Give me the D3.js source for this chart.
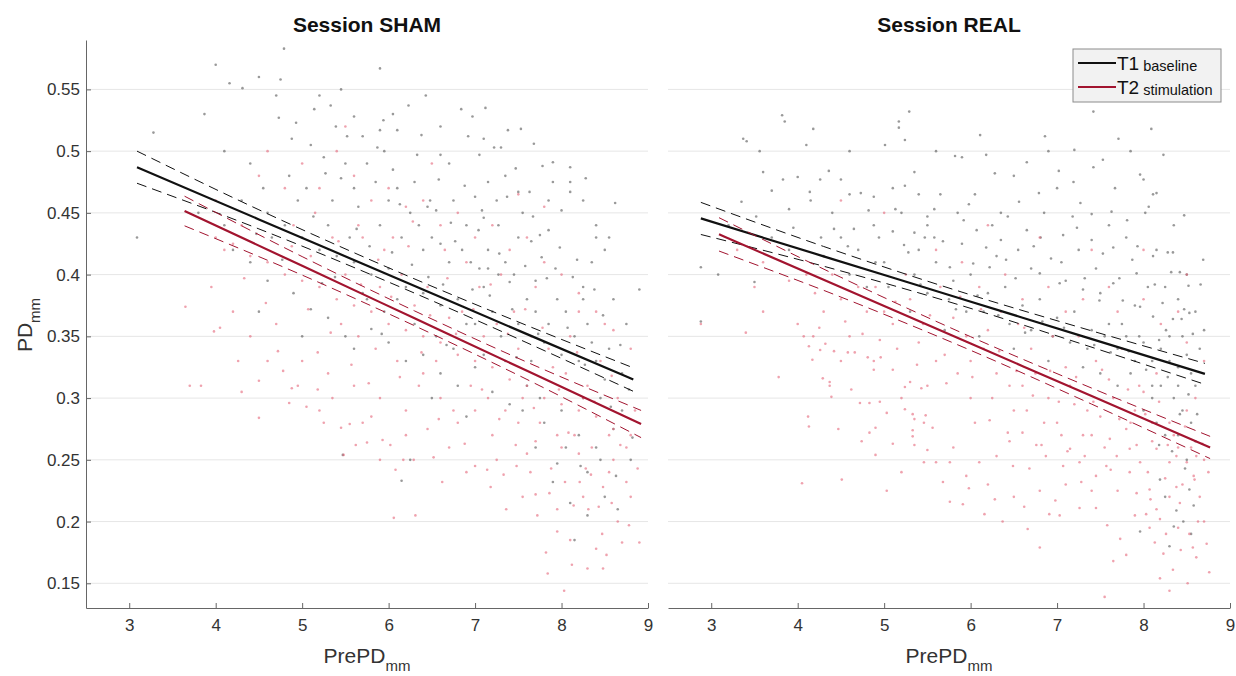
<!DOCTYPE html>
<html lang="en">
<head>
    <meta charset="UTF-8">
    <title>PD vs PrePD</title>
    <style type="text/css">
        * {
            margin: 0;
            padding: 0;
        }
        body {
            background: white;
        }
        text {
            font-family: "Liberation Sans", Arial, sans-serif;
        }
    </style>
</head>
<body>
<div id="chart-area"></div>
<script src="https://cdn.jsdelivr.net/npm/d3@7"></script>
<script type="text/javascript">
    // tick labels
    const xTicks = [3, 4, 5, 6, 7, 8, 9]
    const xTickLabels = ['3', '4', '5', '6', '7', '8', '9']
    const yTicks = [0.15, 0.2, 0.25, 0.3, 0.35, 0.4, 0.45, 0.5, 0.55]
    const yTickLabels = ['0.15', '0.2', '0.25', '0.3', '0.35', '0.4', '0.45', '0.5', '0.55']
    const sessions = ['Session SHAM', 'Session REAL']
    const seriesNames = [['T1', 'baseline'], ['T2', 'stimulation']]

    // regression fits: x positions, fitted value, upper / lower confidence bounds
    const shamT1Fit = {
      x: [3.09, 4.5, 6.2, 7.6, 8.83],
      y: [0.487, 0.4447, 0.3938, 0.3518, 0.315],
      hi: [0.500, 0.4525, 0.3995, 0.3588, 0.3245],
      lo: [0.474, 0.437, 0.388, 0.3448, 0.3055]
    }
    const shamT2Fit = {
      x: [3.64, 5.0, 6.3, 7.6, 8.92],
      y: [0.4515, 0.4071, 0.3646, 0.3221, 0.279],
      hi: [0.4635, 0.4146, 0.3706, 0.3291, 0.290],
      lo: [0.4395, 0.3996, 0.3586, 0.3151, 0.268]
    }
    const realT1Fit = {
      x: [2.88, 4.3, 5.9, 7.3, 8.71],
      y: [0.4455, 0.4148, 0.3803, 0.3500, 0.3196],
      hi: [0.4585, 0.4228, 0.3858, 0.3565, 0.3281],
      lo: [0.4325, 0.4068, 0.3748, 0.3435, 0.3111]
    }
    const realT2Fit = {
      x: [3.09, 4.5, 6.0, 7.4, 8.77],
      y: [0.4326, 0.3898, 0.3442, 0.3016, 0.260],
      hi: [0.4461, 0.3978, 0.3497, 0.3081, 0.269],
      lo: [0.4191, 0.3818, 0.3387, 0.2951, 0.251]
    }

    // scatter points [PrePD, PD] (subsampled)
    const shamT1Pts = [
      [3.09,0.430],[3.28,0.515],[3.87,0.530],[4.00,0.570],[4.16,0.555],[4.31,0.551],[4.50,0.560],[4.79,0.583],
      [4.75,0.558],[4.70,0.545],[5.14,0.534],[5.20,0.545],[5.33,0.537],[5.90,0.567],[5.60,0.528],[5.94,0.525],
      [6.10,0.517],[5.90,0.517],[5.70,0.512],[5.39,0.520],[4.73,0.527],[4.88,0.510],[5.95,0.500],
      [6.43,0.545],[6.84,0.534],[7.12,0.535],[7.53,0.518],[7.68,0.506],[6.38,0.513],[6.92,0.512],[7.10,0.510],
      [7.22,0.503],[7.30,0.503],[7.90,0.491],[8.10,0.487],[6.60,0.497],[7.05,0.497],[7.47,0.486],[6.70,0.490],
      [7.78,0.488],[7.90,0.475],[8.10,0.475],[8.10,0.467],[7.50,0.467],[7.63,0.467],[8.25,0.460],[8.40,0.440],
      [8.40,0.430],[8.50,0.420],[8.90,0.388],[8.25,0.380],[8.00,0.452],[7.85,0.436],[7.75,0.432],[7.27,0.440],
      [7.10,0.446],[7.04,0.436],[6.90,0.440],[6.72,0.442],[6.55,0.452],[6.48,0.460],[6.45,0.455],[7.00,0.463],
      [7.15,0.420],[7.50,0.430],[7.65,0.427],[7.77,0.414],[7.93,0.405],[8.13,0.398],[8.25,0.390],[7.15,0.405],
      [7.27,0.400],[7.40,0.394],[7.10,0.390],[7.70,0.395],
      [4.20,0.420],[4.40,0.410],[4.60,0.395],[4.90,0.385],[5.10,0.372],[5.30,0.365],[5.50,0.350],[5.60,0.340],
      [5.80,0.356],[6.00,0.345],[6.20,0.330],[6.40,0.335],[6.60,0.320],[6.80,0.310],[7.00,0.325],[7.20,0.305],
      [7.40,0.295],[7.60,0.310],[7.80,0.280],[8.00,0.290],[8.20,0.270],[8.40,0.260],[8.60,0.275],[8.80,0.250],
      [7.90,0.232],[8.10,0.215],[8.30,0.240],[8.50,0.220],[8.15,0.185],[7.95,0.247],[7.70,0.260],[6.90,0.285],
      [6.50,0.300],[6.25,0.250],[6.15,0.233],[5.00,0.350],[4.50,0.370],[4.10,0.440],[3.80,0.450],[5.47,0.254],
      [5.75,0.380],[6.90,0.360],[7.30,0.350],[7.65,0.330],[8.45,0.300],[8.70,0.320],[8.35,0.345],
      [4.30,0.460],[4.60,0.450],[4.80,0.440],[5.00,0.430],[5.20,0.420],[5.40,0.415],[5.60,0.410],[5.80,0.400],
      [6.00,0.405],[6.20,0.390],[6.40,0.385],[6.60,0.375],[6.80,0.380],[7.00,0.360],[7.20,0.370],[7.50,0.360],
      [7.80,0.345],[8.00,0.335],[8.20,0.330],[8.50,0.315],[8.70,0.290],[5.05,0.470],[5.35,0.460],[5.65,0.455],
      [5.90,0.440],[6.15,0.430],[6.40,0.420],[6.70,0.410],[5.50,0.490],[6.30,0.475],[6.05,0.485],[4.40,0.490],
      [4.10,0.500],
      [5.10,0.505],[5.25,0.495],[5.45,0.478],[5.60,0.470],[5.75,0.490],[5.85,0.475],[6.00,0.460],[6.10,0.470],
      [6.25,0.450],[6.35,0.440],[6.50,0.430],[6.60,0.425],[6.75,0.460],[6.85,0.420],[6.95,0.410],[7.05,0.405],
      [7.15,0.475],[7.25,0.460],[7.35,0.410],[7.45,0.400],[7.55,0.450],[7.60,0.380],[7.70,0.370],[7.85,0.360],
      [7.95,0.380],[8.05,0.370],[8.15,0.350],[8.30,0.360],[8.40,0.330],[8.55,0.340],[8.60,0.380],[8.75,0.360],
      [8.35,0.410],[8.55,0.430],[4.85,0.480],[4.95,0.460],[4.55,0.470],[4.65,0.430],[5.30,0.440],[5.55,0.430],
      [5.70,0.385],[5.95,0.370],[6.10,0.380],[6.30,0.360],[6.55,0.350],[6.75,0.340],[7.10,0.335],[7.35,0.330],
      [7.55,0.290],[7.75,0.300],[8.25,0.300],[8.05,0.260],[8.30,0.205],[8.65,0.210],[8.45,0.250],[6.05,0.530],
      [6.60,0.520],[5.45,0.550],[7.35,0.480],[7.85,0.460],
      [5.13,0.447],[5.27,0.482],[5.38,0.398],[5.52,0.512],[5.63,0.437],[5.78,0.423],[5.87,0.503],[6.04,0.418],
      [6.13,0.457],[6.27,0.408],[6.33,0.497],[6.46,0.398],[6.58,0.477],[6.63,0.392],[6.77,0.427],[6.88,0.472],
      [6.97,0.388],[7.08,0.452],[7.17,0.383],[7.28,0.417],[7.37,0.463],[7.43,0.372],[7.58,0.407],[7.67,0.447],
      [7.73,0.352],[7.83,0.397],[7.98,0.422],[8.07,0.357],[8.18,0.412],[8.27,0.327],[8.38,0.388],[8.48,0.367],
      [8.57,0.293],[8.68,0.343],[8.78,0.307],[8.82,0.268],[8.63,0.237],[8.22,0.245],[7.48,0.333],[6.67,0.343],
      [5.92,0.352],[5.23,0.393],[4.77,0.412],[4.47,0.433],[4.93,0.523],[6.23,0.537],[6.97,0.528],[7.38,0.517],
      [8.28,0.478],[8.62,0.458]
    ]
    const shamT2Pts = [
      [3.65,0.374],[3.70,0.310],[4.00,0.460],[4.10,0.420],[4.30,0.440],[4.50,0.480],[4.60,0.500],[4.80,0.470],
      [5.00,0.490],[5.20,0.470],[5.40,0.500],[5.60,0.480],[5.80,0.460],[6.00,0.470],[6.20,0.455],[6.40,0.460],
      [6.60,0.440],[6.80,0.450],[7.00,0.430],[7.20,0.440],[7.40,0.420],[7.60,0.430],[7.80,0.410],[8.00,0.400],
      [8.20,0.385],[8.40,0.370],[8.60,0.355],[8.80,0.340],[7.50,0.465],[7.80,0.455],[6.50,0.490],[5.50,0.520],
      [4.00,0.430],[4.20,0.425],[4.40,0.415],[4.60,0.410],[4.80,0.400],[5.00,0.395],[5.20,0.390],[5.40,0.380],
      [5.60,0.375],[5.80,0.370],[6.00,0.360],[6.20,0.355],[6.40,0.350],[6.60,0.345],[6.80,0.335],[7.00,0.330],
      [7.20,0.325],[7.40,0.315],[7.60,0.310],[7.80,0.300],[8.00,0.295],[8.20,0.290],[8.40,0.285],[8.60,0.275],
      [8.80,0.270],[5.10,0.415],[5.50,0.400],[5.90,0.390],[6.30,0.375],[6.70,0.365],[7.10,0.350],[7.50,0.340],
      [7.90,0.325],[8.30,0.310],
      [3.83,0.310],[3.98,0.354],[4.05,0.357],[4.26,0.330],[4.30,0.305],[4.50,0.284],[4.50,0.314],[4.60,0.330],
      [4.72,0.338],[4.85,0.296],[4.88,0.308],[5.05,0.293],[5.20,0.290],[5.25,0.280],[5.45,0.276],[5.55,0.279],
      [5.70,0.280],[5.75,0.264],[5.90,0.250],[5.93,0.266],[6.02,0.262],[6.06,0.203],[5.48,0.254],[6.17,0.250],
      [6.29,0.250],[6.52,0.252],[6.31,0.205],[6.90,0.240],[7.00,0.245],[7.14,0.242],[7.33,0.238],[7.48,0.245],
      [7.64,0.240],[7.36,0.210],[7.55,0.220],[7.70,0.222],[7.86,0.223],[8.04,0.232],[8.21,0.232],[8.34,0.238],
      [8.55,0.240],[8.75,0.232],[7.82,0.175],[7.84,0.158],[8.03,0.144],[7.95,0.192],[8.10,0.185],[8.30,0.162],
      [8.48,0.162],[8.40,0.178],[8.47,0.190],[8.58,0.215],[8.70,0.183],[8.90,0.183],[8.14,0.213],[8.31,0.210],
      [8.43,0.212],[6.60,0.300],[6.80,0.280],[7.00,0.290],[7.20,0.270],[7.50,0.280],[7.70,0.265],[8.00,0.260],
      [8.20,0.255],[8.60,0.250],[5.00,0.330],[5.30,0.320],[5.60,0.310],[5.90,0.300],[6.20,0.290],[6.40,0.320],
      [4.90,0.440],[5.15,0.450],[5.35,0.430],[5.45,0.360],[5.65,0.350],[5.70,0.430],[5.85,0.340],[5.95,0.420],
      [6.10,0.330],[6.15,0.400],[6.35,0.310],[6.45,0.390],[6.55,0.330],[6.65,0.420],[6.75,0.290],[6.85,0.370],
      [6.95,0.310],[7.05,0.390],[7.15,0.300],[7.25,0.360],[7.35,0.290],[7.45,0.370],[7.55,0.300],[7.65,0.350],
      [7.75,0.280],[7.85,0.340],[7.95,0.270],[8.05,0.320],[8.10,0.350],[8.15,0.270],[8.25,0.300],[8.35,0.260],
      [8.45,0.330],[8.55,0.270],[8.65,0.300],[8.75,0.260],[8.85,0.290],[8.80,0.220],[8.65,0.200],[8.25,0.220],
      [7.95,0.210],[7.60,0.255],[7.25,0.250],[6.70,0.260],[6.45,0.275],[6.20,0.270],[5.80,0.285],[5.35,0.300],
      [4.95,0.310],[4.70,0.360],[4.40,0.350],[4.20,0.370],[3.95,0.390],[5.65,0.440],[6.05,0.430],[6.90,0.410],
      [7.30,0.400],[7.70,0.390],[8.20,0.370],[8.50,0.360],
      [5.07,0.372],[5.18,0.337],[5.33,0.353],[5.42,0.427],[5.57,0.327],[5.68,0.392],[5.77,0.312],[5.88,0.412],
      [6.03,0.382],[6.13,0.317],[6.23,0.423],[6.38,0.337],[6.48,0.367],[6.58,0.283],[6.68,0.397],[6.78,0.352],
      [6.88,0.263],[6.98,0.372],[7.08,0.307],[7.18,0.392],[7.28,0.283],[7.38,0.352],[7.47,0.262],[7.58,0.372],
      [7.68,0.292],[7.78,0.357],[7.88,0.243],[7.97,0.307],[8.08,0.272],[8.18,0.337],[8.28,0.243],[8.38,0.297],
      [8.48,0.228],[8.58,0.318],[8.68,0.262],[8.78,0.197],[8.88,0.243],[8.52,0.173],[8.12,0.165],[7.72,0.205],
      [7.18,0.228],[6.62,0.232],[6.08,0.242],[5.62,0.262],[5.18,0.307],[4.78,0.322],[4.58,0.377],[4.33,0.397],
      [4.88,0.423],[6.28,0.443]
    ]
    const realT1Pts = [
      [3.82,0.529],[3.85,0.524],[4.18,0.518],[4.10,0.505],[3.37,0.510],[3.41,0.508],[3.56,0.500],[5.29,0.532],
      [5.17,0.524],[5.17,0.519],[5.24,0.509],[5.01,0.505],[4.60,0.500],[3.60,0.483],[3.83,0.477],[4.00,0.479],
      [4.26,0.477],[4.36,0.484],[4.50,0.477],[4.60,0.465],[4.73,0.466],[4.88,0.463],[5.10,0.470],[5.24,0.472],
      [5.35,0.483],[5.40,0.465],[5.50,0.447],[3.70,0.468],[4.14,0.467],[3.35,0.459],[3.90,0.453],[4.15,0.460],
      [4.27,0.430],[4.50,0.430],[4.65,0.437],[4.88,0.440],[4.94,0.430],[5.10,0.435],[5.23,0.424],[5.35,0.434],
      [5.47,0.430],[5.58,0.430],[2.88,0.406],[3.08,0.400],[3.50,0.394],[2.88,0.362],
      [7.42,0.532],[6.11,0.513],[6.86,0.512],[7.20,0.501],[7.71,0.510],[8.09,0.518],[5.82,0.496],[5.90,0.495],
      [6.18,0.497],[6.65,0.491],[7.02,0.484],[7.19,0.475],[7.42,0.487],[7.67,0.470],[7.96,0.481],[8.00,0.477],
      [8.15,0.466],[8.11,0.465],[8.06,0.455],[6.35,0.450],[6.56,0.459],[6.79,0.466],[7.27,0.458],[7.40,0.449],
      [7.63,0.451],[7.81,0.444],[8.02,0.450],[5.92,0.444],[6.07,0.436],[6.35,0.428],[6.65,0.436],[6.81,0.430],
      [7.07,0.432],[7.23,0.438],[7.40,0.428],[7.65,0.422],[7.87,0.412],[8.11,0.415],[8.34,0.418],[8.42,0.402],
      [8.52,0.391],[8.40,0.380],[8.44,0.364],[8.69,0.412],[8.70,0.355],[8.28,0.418],[5.76,0.406],[6.03,0.409],
      [6.22,0.406],[6.41,0.412],[6.80,0.401],[7.03,0.393],[7.30,0.388],[7.49,0.379],[7.65,0.393],[7.76,0.379],
      [7.92,0.401],[7.96,0.374],[8.11,0.366],[8.22,0.377],[8.34,0.364],[8.53,0.369],[8.26,0.355],
      [8.20,0.340],[8.30,0.330],[8.40,0.325],[8.50,0.335],[8.60,0.310],[8.35,0.300],[8.45,0.290],[8.55,0.280],
      [8.25,0.270],[8.60,0.265],[8.10,0.310],[8.00,0.290],[7.90,0.330],[7.70,0.340],[7.50,0.320],
      [5.40,0.420],[5.60,0.410],[5.80,0.395],[6.00,0.400],[6.20,0.385],[6.40,0.390],[6.60,0.375],[6.80,0.380],
      [7.00,0.365],[7.20,0.370],[7.40,0.355],[7.60,0.360],[7.80,0.350],[8.00,0.345],[5.50,0.440],[5.90,0.425],
      [6.30,0.415],[6.70,0.405],[7.10,0.395],[7.50,0.385],[7.90,0.375],[5.30,0.370],[5.70,0.355],[6.10,0.350],
      [6.50,0.340],[6.90,0.330],[7.30,0.325],[7.70,0.310],[8.10,0.300],[4.60,0.400],[4.80,0.390],[5.00,0.410],
      [4.30,0.415],[3.90,0.420],[8.38,0.209],[8.53,0.226],[8.19,0.234],[8.46,0.200],[7.96,0.192],
      [4.70,0.420],[4.90,0.410],[5.05,0.390],[5.20,0.450],[5.35,0.400],[5.50,0.385],[5.65,0.465],[5.75,0.380],
      [5.85,0.450],[5.95,0.370],[6.05,0.465],[6.15,0.370],[6.25,0.440],[6.45,0.360],[6.55,0.420],[6.70,0.355],
      [6.85,0.450],[6.95,0.350],[7.05,0.410],[7.15,0.345],[7.25,0.420],[7.35,0.340],[7.45,0.405],[7.55,0.350],
      [7.60,0.440],[7.75,0.360],[7.80,0.430],[7.85,0.320],[7.95,0.350],[8.05,0.390],[8.10,0.330],[8.15,0.420],
      [8.20,0.310],[8.25,0.390],[8.30,0.350],[8.35,0.440],[8.40,0.310],[8.45,0.350],[8.50,0.400],[8.55,0.320],
      [8.60,0.370],[8.65,0.340],[8.25,0.220],[8.50,0.250],[8.40,0.270],[8.15,0.280],[8.55,0.190],[8.30,0.180],
      [6.50,0.480],[7.00,0.470],[7.85,0.500],[6.90,0.500],[5.60,0.500],[4.40,0.450],[3.20,0.440],[3.70,0.430],
      [5.13,0.453],[5.28,0.418],[5.42,0.392],[5.58,0.453],[5.68,0.427],[5.83,0.372],[5.98,0.457],[6.08,0.383],
      [6.18,0.422],[6.32,0.367],[6.43,0.447],[6.52,0.397],[6.63,0.353],[6.73,0.423],[6.83,0.362],[6.93,0.413],
      [7.08,0.357],[7.18,0.447],[7.32,0.397],[7.43,0.343],[7.53,0.417],[7.62,0.337],[7.72,0.397],[7.83,0.338],
      [7.93,0.423],[8.03,0.323],[8.13,0.392],[8.18,0.347],[8.28,0.317],[8.32,0.402],[8.42,0.287],[8.47,0.372],
      [8.52,0.303],[8.57,0.352],[8.62,0.287],[8.66,0.392],[8.48,0.243],[8.33,0.257],[8.18,0.262],[8.58,0.213],
      [8.35,0.196],[4.82,0.452],[4.58,0.423],[4.42,0.437],[3.95,0.438],[3.52,0.447],[6.28,0.482],[7.53,0.493],
      [8.23,0.497],[8.47,0.448]
    ]
    const realT2Pts = [
      [2.88,0.360],[3.40,0.353],[3.78,0.317],[4.07,0.350],[4.18,0.350],[4.13,0.342],[4.17,0.331],[4.26,0.339],
      [4.32,0.344],[4.42,0.338],[4.29,0.316],[4.37,0.313],[4.37,0.310],[4.39,0.301],[4.50,0.330],[4.58,0.337],
      [4.66,0.337],[4.81,0.333],[4.88,0.330],[4.96,0.333],[5.10,0.323],[4.88,0.323],[4.12,0.285],[4.13,0.277],
      [4.47,0.275],[4.72,0.296],[4.83,0.296],[4.83,0.272],[4.90,0.276],[5.03,0.288],[5.10,0.263],[4.74,0.265],
      [4.90,0.254],[4.05,0.231],[4.51,0.234],[5.03,0.225],[5.20,0.300],[5.24,0.291],[5.33,0.287],[5.35,0.283],
      [5.48,0.286],[5.46,0.280],[5.33,0.274],[5.33,0.269],[5.50,0.258],[5.46,0.248],[5.60,0.248],[5.56,0.276],
      [5.24,0.309],[5.43,0.308],[5.30,0.313],
      [5.76,0.216],[5.91,0.214],[6.16,0.206],[6.37,0.200],[6.66,0.194],[6.80,0.179],[6.91,0.206],[7.03,0.205],
      [7.26,0.211],[7.45,0.211],[7.55,0.139],[7.65,0.168],[7.73,0.186],[7.80,0.173],[8.03,0.206],[8.07,0.195],
      [8.19,0.202],[8.19,0.154],[8.23,0.174],[8.26,0.190],[8.30,0.144],[8.34,0.161],[8.51,0.150],[8.53,0.190],
      [8.57,0.179],[8.61,0.171],[8.63,0.200],[8.76,0.159],[8.59,0.234],[8.07,0.226],[8.30,0.220],[8.42,0.215],
      [7.92,0.223],[7.84,0.240],[7.69,0.253],[7.57,0.245],[7.45,0.237],[7.26,0.248],[7.07,0.245],[6.87,0.253],
      [6.68,0.243],[6.49,0.245],[6.30,0.253],[6.10,0.248],[5.95,0.237],[5.76,0.248],[6.45,0.265],[6.60,0.272],
      [6.76,0.262],[7.15,0.259],[7.30,0.270],[7.61,0.267],[7.84,0.259],[7.96,0.248],[8.15,0.259],[8.30,0.248],
      [8.38,0.253],[8.50,0.248],[8.61,0.253],
      [3.30,0.420],[3.60,0.410],[3.90,0.395],[4.20,0.385],[4.50,0.380],[4.80,0.370],[5.10,0.360],[5.40,0.345],
      [5.70,0.335],[6.00,0.330],[6.30,0.320],[6.60,0.310],[6.90,0.300],[7.20,0.295],[7.50,0.285],[7.80,0.275],
      [8.10,0.265],[8.40,0.260],[8.70,0.250],[4.40,0.400],[4.90,0.390],[5.30,0.380],[5.80,0.365],[6.20,0.355],
      [6.70,0.340],[7.10,0.325],[7.60,0.315],[8.00,0.305],[8.50,0.290],[5.50,0.310],[6.00,0.300],[6.50,0.290],
      [7.00,0.280],[7.40,0.270],[7.90,0.290],[8.30,0.280],[8.60,0.300],[3.60,0.370],[4.00,0.360],[5.90,0.410],
      [6.40,0.400],[6.90,0.390],[7.30,0.380],[7.70,0.370],[8.20,0.360],[8.50,0.345],[8.70,0.330],[6.20,0.440],
      [6.80,0.430],[7.40,0.420],[8.00,0.420],[8.50,0.400],[5.00,0.450],[4.50,0.460],
      [4.30,0.370],[4.60,0.350],[4.70,0.390],[5.00,0.370],[5.15,0.340],[5.25,0.400],[5.45,0.360],[5.60,0.330],
      [5.65,0.390],[5.85,0.320],[5.95,0.350],[6.05,0.280],[6.15,0.340],[6.25,0.300],[6.35,0.370],[6.45,0.310],
      [6.55,0.360],[6.65,0.290],[6.75,0.320],[6.85,0.280],[6.95,0.350],[7.05,0.270],[7.15,0.310],[7.25,0.350],
      [7.35,0.290],[7.45,0.330],[7.55,0.260],[7.65,0.300],[7.75,0.340],[7.85,0.280],[7.95,0.310],[8.05,0.240],
      [8.10,0.280],[8.15,0.320],[8.25,0.235],[8.35,0.270],[8.45,0.230],[8.55,0.260],[8.65,0.220],[8.75,0.240],
      [8.70,0.200],[8.40,0.195],[8.15,0.210],[7.90,0.205],[7.70,0.225],[7.40,0.225],[7.10,0.230],[6.80,0.225],
      [6.50,0.220],[6.20,0.230],[5.80,0.260],[5.20,0.240],[5.60,0.420],[6.10,0.390],[6.60,0.380],[7.10,0.370],
      [7.60,0.390],[8.00,0.380],[8.40,0.370],[4.10,0.400],[3.50,0.390],
      [4.25,0.357],[4.55,0.362],[4.75,0.352],[4.95,0.347],[5.13,0.378],[5.38,0.327],[5.53,0.367],[5.72,0.312],
      [5.88,0.382],[6.02,0.317],[6.12,0.372],[6.22,0.282],[6.33,0.338],[6.43,0.272],[6.53,0.322],[6.62,0.357],
      [6.72,0.302],[6.82,0.262],[6.92,0.322],[7.02,0.297],[7.12,0.257],[7.22,0.317],[7.32,0.253],[7.42,0.297],
      [7.52,0.323],[7.62,0.242],[7.72,0.283],[7.82,0.307],[7.92,0.262],[8.02,0.287],[8.08,0.218],[8.18,0.297],
      [8.28,0.262],[8.38,0.228],[8.48,0.277],[8.58,0.237],[8.68,0.263],[8.73,0.182],[8.43,0.177],[8.13,0.183],
      [7.58,0.197],[7.28,0.232],[6.98,0.217],[6.62,0.212],[6.28,0.218],[5.98,0.227],[5.68,0.232],[5.35,0.262],
      [4.95,0.297],[4.62,0.307]
    ]

    const panels = [
      {title: sessions[0], t1: shamT1Pts, t2: shamT2Pts, f1: shamT1Fit, f2: shamT2Fit, left: 86, right: 648, yAxis: true},
      {title: sessions[1], t1: realT1Pts, t2: realT2Pts, f1: realT1Fit, f2: realT2Fit, left: 668, right: 1230, yAxis: false}
    ]

    const plotTop = 40
    const plotBottom = 608
    const black = '#111111'
    const red = '#a2142f'

    const svg = d3.select('#chart-area').append('svg')
    .attr('width', 1236)
    .attr('height', 676)
    .style('background-color', 'white')

    const y = d3.scaleLinear()
    .domain([0.13, 0.59])
    .range([plotBottom, plotTop])

    panels.forEach(p => {
      const x = d3.scaleLinear()
      .domain([2.5, 9])
      .range([p.left, p.right])

      const g = svg.append('g')

      // grid
      g.selectAll('.grid').data(yTicks).enter().append('line')
      .attr('x1', p.left)
      .attr('x2', p.right)
      .attr('y1', d => y(d))
      .attr('y2', d => y(d))
      .attr('stroke', '#e6e6e6')
      .attr('stroke-width', 1)

      // scatter
      const dots = (pts, col) => {
        g.append('g').selectAll('circle').data(pts).enter().append('circle')
        .attr('cx', d => x(d[0]))
        .attr('cy', d => y(d[1]))
        .attr('r', 1.3)
        .attr('fill', col)
      }
      dots(p.t1, 'rgba(85,85,85,0.6)')
      dots(p.t2, 'rgba(228,100,120,0.6)')

      // fits with confidence bounds
      const drawFit = (f, col) => {
        const pts = k => f.x.map((v, i) => [v, f[k][i]])
        const line = d3.line().x(d => x(d[0])).y(d => y(d[1])).curve(d3.curveMonotoneX)
        ;['hi', 'lo'].forEach(k => {
          g.append('path')
          .attr('d', line(pts(k)))
          .attr('fill', 'none')
          .attr('stroke', col)
          .attr('stroke-width', 1)
          .attr('stroke-dasharray', '10,6')
        })
        g.append('path')
        .attr('d', line(pts('y')))
        .attr('fill', 'none')
        .attr('stroke', col)
        .attr('stroke-width', 2.2)
      }
      drawFit(p.f1, black)
      drawFit(p.f2, red)

      // x axis
      const xAxis = g.append('g')
      .attr('transform', `translate(0,${plotBottom})`)
      .call(d3.axisBottom(x).tickValues(xTicks).tickFormat((d, i) => xTickLabels[i])
        .tickSizeInner(-5).tickSizeOuter(0).tickPadding(11))
      xAxis.select('.domain').attr('stroke', '#666')
      xAxis.selectAll('.tick line').attr('stroke', '#666')
      xAxis.selectAll('text').attr('font-size', 17).attr('fill', '#333')

      // y axis
      if (p.yAxis) {
        const yAxis = g.append('g')
        .attr('transform', `translate(${p.left},0)`)
        .call(d3.axisLeft(y).tickValues(yTicks).tickFormat((d, i) => yTickLabels[i])
          .tickSizeInner(-5).tickSizeOuter(0).tickPadding(6))
        yAxis.select('.domain').attr('stroke', '#666')
        yAxis.selectAll('.tick line').attr('stroke', '#666')
        yAxis.selectAll('text').attr('font-size', 17).attr('fill', '#333')
      }

      // title
      g.append('text')
      .attr('x', (p.left + p.right) / 2)
      .attr('y', 32)
      .attr('text-anchor', 'middle')
      .attr('font-size', 21)
      .attr('font-weight', 'bold')
      .attr('fill', '#111')
      .text(p.title)

      // x label
      const xl = g.append('text')
      .attr('x', (p.left + p.right) / 2)
      .attr('y', 663)
      .attr('text-anchor', 'middle')
      .attr('font-size', 21)
      .attr('fill', '#333')
      xl.append('tspan').text('PrePD')
      xl.append('tspan').attr('font-size', 15).attr('dy', 8).text('mm')
    })

    // y label
    const yl = svg.append('text')
    .attr('transform', 'translate(32,325) rotate(-90)')
    .attr('text-anchor', 'middle')
    .attr('font-size', 21)
    .attr('fill', '#333')
    yl.append('tspan').text('PD')
    yl.append('tspan').attr('font-size', 15).attr('dy', 8).text('mm')

    // legend
    const lg = svg.append('g').attr('transform', 'translate(1073,49)')
    lg.append('rect')
    .attr('width', 148)
    .attr('height', 53)
    .attr('fill', '#f2f2f2')
    .attr('stroke', '#8c8c8c')
    .attr('stroke-width', 1)
    ;[black, red].forEach((col, i) => {
      const yy = 14 + i * 24
      lg.append('line')
      .attr('x1', 5).attr('x2', 43)
      .attr('y1', yy).attr('y2', yy)
      .attr('stroke', col)
      .attr('stroke-width', 2)
      const t = lg.append('text')
      .attr('x', 44)
      .attr('y', yy + 7)
      .attr('font-size', 19)
      .attr('fill', '#111')
      t.append('tspan').text(seriesNames[i][0])
      t.append('tspan').attr('font-size', 14.5).attr('dx', 4).attr('dy', 1).text(seriesNames[i][1])
    })
</script>
</body>
</html>
